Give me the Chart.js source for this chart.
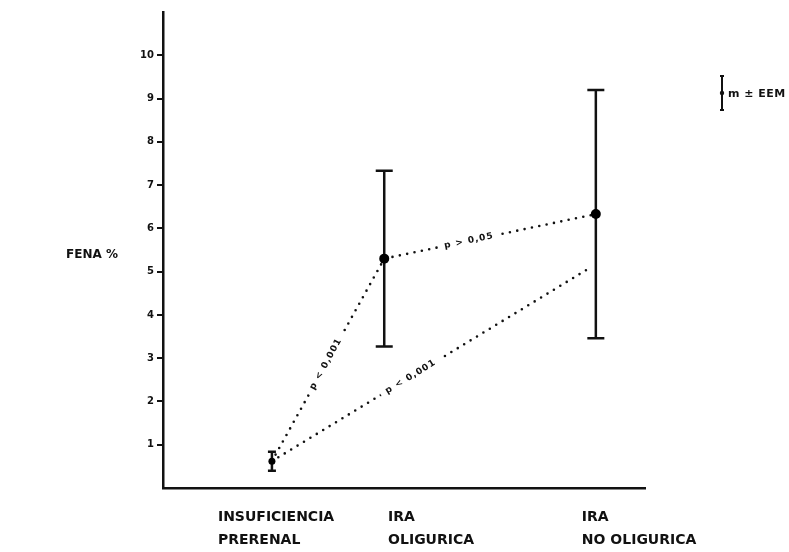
<!DOCTYPE html>
<html><head><meta charset="utf-8">
<script src="https://cdn.jsdelivr.net/npm/chart.js@4/dist/chart.umd.min.js"></script>
<style>html,body{margin:0;padding:0;background:#fff}#wrap{width:789px;height:552px;position:relative}</style>
</head><body><div id="wrap"><canvas id="c"></canvas></div>
<script>
// ---- data ----
const categories = [['INSUFICIENCIA','PRERENAL'], ['IRA','OLIGURICA'], ['IRA','NO OLIGURICA']];
const groupPositions = [2.26, 4.59, 8.98];
const fenaMeans = [0.62, 5.3, 6.33];
const fenaSEM = [0.22, 2.03, 2.87];
const comparisonEnd = [8.8, 5.05];
const pLabels = ['p < 0,001', 'p > 0,05', 'p < 0,001'];
const yTickValues = [1, 2, 3, 4, 5, 6, 7, 8, 9, 10];
const labelStarts = [1.14, 4.67, 8.69];
const legendText = 'm \u00b1 EEM';
const yTitle = 'FENA %';

const INK = '#111';
const FONT = '"DejaVu Sans", "Liberation Sans", Arial, sans-serif';

const meanPoints = groupPositions.map((x, i) => ({x: x, y: fenaMeans[i]}));
const compPoints = [{x: groupPositions[0], y: fenaMeans[0]}, {x: comparisonEnd[0], y: comparisonEnd[1]}];

const decorPlugin = {
  id: 'decor',
  beforeDatasetsDraw(chart) {
    const {ctx, scales: {x, y}} = chart;
    ctx.save();
    ctx.strokeStyle = INK;
    ctx.lineWidth = 2.5;
    groupPositions.forEach((gx, i) => {
      const px = x.getPixelForValue(gx);
      const top = y.getPixelForValue(fenaMeans[i] + fenaSEM[i]);
      const bot = y.getPixelForValue(fenaMeans[i] - fenaSEM[i]);
      const cw = i === 0 ? 4 : 8.5;
      ctx.beginPath();
      ctx.moveTo(px, top); ctx.lineTo(px, bot);
      ctx.moveTo(px - cw, top); ctx.lineTo(px + cw, top);
      ctx.moveTo(px - cw, bot); ctx.lineTo(px + cw, bot);
      ctx.stroke();
    });
    ctx.restore();
  },
  afterDatasetsDraw(chart) {
    const {ctx, scales: {x, y}} = chart;
    const segs = [
      [meanPoints[0], meanPoints[1], 0.48],
      [meanPoints[1], meanPoints[2], 0.40],
      [compPoints[0], compPoints[1], 0.44]
    ];
    ctx.save();
    ctx.font = 'bold 9px ' + FONT;
    ctx.letterSpacing = '1px';
    ctx.textAlign = 'center';
    ctx.textBaseline = 'middle';
    segs.forEach((s, i) => {
      const x0 = x.getPixelForValue(s[0].x), y0 = y.getPixelForValue(s[0].y);
      const x1 = x.getPixelForValue(s[1].x), y1 = y.getPixelForValue(s[1].y);
      const cx = x0 + (x1 - x0) * s[2], cy = y0 + (y1 - y0) * s[2];
      const ang = Math.atan2(y1 - y0, x1 - x0);
      ctx.save();
      ctx.translate(cx, cy);
      ctx.rotate(ang);
      const w = ctx.measureText(pLabels[i]).width;
      ctx.fillStyle = '#fff';
      ctx.fillRect(-w / 2 - 6, -6, w + 12, 12);
      ctx.fillStyle = INK;
      ctx.fillText(pLabels[i], 0, 0);
      ctx.restore();
    });
    ctx.letterSpacing = '0px';
    // y title
    ctx.font = 'bold 12px ' + FONT;
    ctx.textAlign = 'left';
    ctx.fillStyle = INK;
    ctx.fillText(yTitle, 66, 255);
    // legend
    ctx.strokeStyle = INK;
    ctx.lineWidth = 2;
    ctx.beginPath();
    ctx.moveTo(722, 76); ctx.lineTo(722, 110);
    ctx.moveTo(720, 76); ctx.lineTo(724, 76);
    ctx.moveTo(720, 110); ctx.lineTo(724, 110);
    ctx.stroke();
    ctx.beginPath(); ctx.arc(722, 93, 2.2, 0, Math.PI * 2); ctx.fill();
    ctx.font = 'bold 11px ' + FONT;
    ctx.letterSpacing = '0.5px';
    ctx.fillText(legendText, 728, 94);
    ctx.restore();
  }
};

new Chart(document.getElementById('c'), {
  type: 'scatter',
  data: {
    datasets: [
      {
        label: 'medias',
        data: meanPoints,
        showLine: true,
        borderColor: INK,
        borderWidth: 2.6,
        borderDash: [0, 7.5],
        borderCapStyle: 'round',
        pointRadius: [3.5, 5, 5],
        pointBackgroundColor: '#000',
        pointBorderWidth: 0,
        pointHoverRadius: 5
      },
      {
        label: 'comparacion',
        data: compPoints,
        showLine: true,
        borderColor: INK,
        borderWidth: 2.6,
        borderDash: [0, 7.5],
        borderCapStyle: 'round',
        pointRadius: 0
      }
    ]
  },
  options: {
    responsive: true,
    maintainAspectRatio: false,
    animation: false,
    layout: {padding: {top: 12, right: 144, bottom: 0, left: 0}},
    plugins: {legend: {display: false}, tooltip: {enabled: false}},
    scales: {
      x: {
        type: 'linear', min: 0, max: 10,
        afterBuildTicks: (axis) => { axis.ticks = labelStarts.map(v => ({value: v})); },
        afterFit: (scale) => { scale.height = 64; },
        ticks: {
          callback: (v, i) => categories[i],
          align: 'start', autoSkip: false, maxRotation: 0,
          color: INK, padding: 18,
          font: {family: FONT, size: 14, weight: 'bold', lineHeight: 1.64}
        },
        grid: {drawOnChartArea: false, drawTicks: false},
        border: {color: INK, width: 2.5}
      },
      y: {
        type: 'linear', min: 0, max: 11,
        afterBuildTicks: (axis) => { axis.ticks = yTickValues.map(v => ({value: v})); },
        afterFit: (scale) => { scale.width = 163; },
        ticks: {color: INK, padding: 3, font: {family: FONT, size: 10, weight: 'bold'}},
        grid: {drawOnChartArea: false, drawTicks: true, tickLength: 6, color: INK, lineWidth: 2},
        border: {color: INK, width: 2.5}
      }
    }
  },
  plugins: [decorPlugin]
});
</script>
</body></html>
